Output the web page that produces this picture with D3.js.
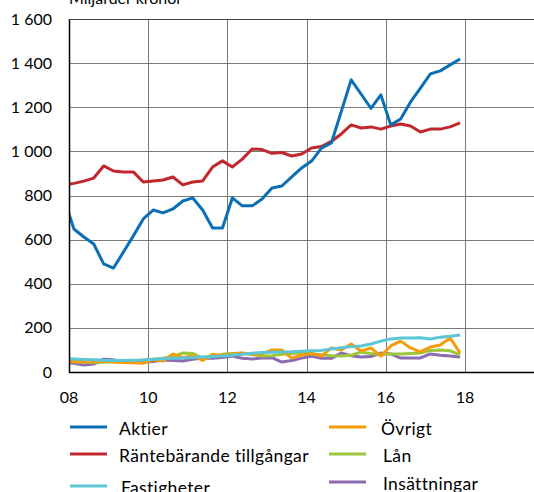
<!DOCTYPE html>
<html>

<head>
    <title>Hushållens finansiella tillgångar</title>
    <script src="https://d3js.org/d3.v7.min.js"></script>
    <style>
        body {
            margin: 0;
            padding: 0;
            background: #fff;
            overflow: hidden;
        }

        svg text {
            font-family: Lato, "Open Sans", sans-serif;
            fill: #000;
        }

        .grid line {
            stroke: #7a7a7a;
            stroke-width: 1;
            shape-rendering: crispEdges;
        }

        .series {
            fill: none;
            stroke-width: 3;
            stroke-linejoin: round;
        }
    </style>
</head>

<body>
    <div id="chart"></div>

    <script>
        // quarters, first one sits left of the plot and gets clipped
        const quarters = ["2007K4",
            "2008K1", "2008K2", "2008K3", "2008K4", "2009K1", "2009K2", "2009K3", "2009K4",
            "2010K1", "2010K2", "2010K3", "2010K4", "2011K1", "2011K2", "2011K3", "2011K4",
            "2012K1", "2012K2", "2012K3", "2012K4", "2013K1", "2013K2", "2013K3", "2013K4",
            "2014K1", "2014K2", "2014K3", "2014K4", "2015K1", "2015K2", "2015K3", "2015K4",
            "2016K1", "2016K2", "2016K3", "2016K4", "2017K1", "2017K2", "2017K3", "2017K4"];

        const aktier = [784,
            648, 612, 580, 490, 471, 544, 617, 694,
            734, 721, 739, 775, 789, 734, 653, 653,
            789, 753, 753, 784, 834, 843, 884, 925,
            956, 1015, 1038, 1180, 1324, 1260, 1195, 1256,
            1120, 1147, 1224, 1287, 1351, 1365, 1392, 1419];

        const rantebarande = [848,
            855, 865, 879, 934, 911, 907, 907, 861,
            866, 870, 884, 848, 861, 866, 929, 957,
            929, 965, 1011, 1008, 991, 995, 979, 988,
            1015, 1022, 1045, 1079, 1120, 1106, 1111, 1101,
            1115, 1124, 1115, 1088, 1101, 1101, 1111, 1129];

        const fastigheter = [60,
            59, 57, 55, 53, 52, 52, 53, 54,
            58, 60, 62, 64, 66, 68, 70, 72,
            76, 80, 85, 88, 90, 91, 92, 94,
            96, 98, 104, 110, 115, 118, 127, 140,
            150, 154, 154, 155, 150, 158, 162, 168];

        const ovrigt = [50,
            48, 46, 47, 50, 45, 43, 42, 40,
            55, 50, 82, 65, 75, 52, 80, 75,
            80, 85, 80, 82, 100, 100, 63, 77,
            85, 72, 109, 100, 127, 95, 109, 72,
            118, 140, 109, 91, 113, 122, 154, 86];

        const lan = [46,
            45, 44, 43, 44, 46, 48, 50, 54,
            58, 62, 70, 86, 84, 62, 70, 80,
            84, 86, 80, 72, 74, 80, 84, 86,
            82, 78, 74, 72, 76, 90, 84, 80,
            82, 82, 84, 86, 98, 100, 96, 78];

        const insattningar = [42,
            40, 32, 36, 58, 55, 50, 48, 45,
            48, 54, 52, 50, 58, 63, 62, 66,
            72, 62, 59, 63, 65, 45, 52, 63,
            72, 62, 62, 86, 74, 68, 70, 86,
            82, 63, 63, 64, 82, 76, 72, 68];

        const seriesNames = ["Aktier", "Räntebärande tillgångar", "Fastigheter", "Övrigt", "Lån", "Insättningar"];
        const seriesValues = [aktier, rantebarande, fastigheter, ovrigt, lan, insattningar];
        const seriesColors = ["#0a6fb5", "#c1272d", "#5bc6d6", "#f59c0b", "#9cc63b", "#8c6bb1"];

        const yTicks = [0, 200, 400, 600, 800, 1000, 1200, 1400, 1600];
        const xTicks = [2008, 2010, 2012, 2014, 2016, 2018, 2020];
        const xTickLabels = ["08", "10", "12", "14", "16", "18", ""];

        const width = 534,
            height = 492;
        const margin = {
            top: 19,
            left: 69,
            bottom: 120
        };
        const plotBottom = height - margin.bottom; // 372

        var xScale = d3.scaleLinear().domain([2008, 2020]).range([margin.left, margin.left + 12 * 39.6]);
        var yScale = d3.scaleLinear().domain([0, 1600]).range([plotBottom, margin.top]);

        var fmt = d3.formatLocale({ decimal: ",", thousands: "\u00a0", grouping: [3], currency: ["", " kr"] }).format(",d");

        // quarter label -> middle of the quarter on the year axis
        function quarterPos(q) {
            var year = +q.slice(0, 4);
            var k = +q.slice(5);
            return year + (k - 1) * 0.25 + 0.125;
        }

        var svg = d3.select("#chart").append("svg")
            .attr("width", width)
            .attr("height", height);

        svg.append("clipPath").attr("id", "plotClip")
            .append("rect")
            .attr("x", margin.left)
            .attr("y", 0)
            .attr("width", width - margin.left)
            .attr("height", plotBottom);

        // grid
        var grid = svg.append("g").attr("class", "grid");
        grid.selectAll(".hgrid")
            .data(yTicks.filter(d => d > 0))
            .enter().append("line")
            .attr("x1", margin.left)
            .attr("x2", width)
            .attr("y1", d => Math.round(yScale(d)) + 0.5)
            .attr("y2", d => Math.round(yScale(d)) + 0.5);
        grid.selectAll(".vgrid")
            .data(xTicks.filter(d => d > 2008))
            .enter().append("line")
            .attr("x1", d => Math.round(xScale(d)) + 0.5)
            .attr("x2", d => Math.round(xScale(d)) + 0.5)
            .attr("y1", margin.top)
            .attr("y2", plotBottom);

        // y labels
        svg.append("g").selectAll("text")
            .data(yTicks)
            .enter().append("text")
            .attr("x", 52)
            .attr("y", d => yScale(d) + 5.5)
            .attr("text-anchor", "end")
            .style("font-size", "16px")
            .text(d => fmt(d));

        // x labels
        svg.append("g").selectAll("text")
            .data(xTicks)
            .enter().append("text")
            .attr("x", d => xScale(d))
            .attr("y", 403)
            .attr("text-anchor", "middle")
            .style("font-size", "16px")
            .text((d, i) => xTickLabels[i]);

        // lines, drawn bottom series first
        var line = d3.line()
            .x((d, i) => xScale(quarterPos(quarters[i])))
            .y(d => yScale(d));

        var plot = svg.append("g").attr("clip-path", "url(#plotClip)");
        for (var s = seriesValues.length - 1; s >= 0; s--) {
            plot.append("path")
                .datum(seriesValues[s])
                .attr("class", "series")
                .attr("stroke", seriesColors[s])
                .attr("d", line);
        }

        // axes frame
        svg.append("line")
            .attr("x1", margin.left + 0.5).attr("x2", margin.left + 0.5)
            .attr("y1", margin.top).attr("y2", plotBottom + 1)
            .attr("stroke", "#000").attr("stroke-width", 1.5);
        svg.append("line")
            .attr("x1", margin.left).attr("x2", width)
            .attr("y1", plotBottom + 0.5).attr("y2", plotBottom + 0.5)
            .attr("stroke", "#000").attr("stroke-width", 1.5);
        svg.append("line")
            .attr("x1", margin.left).attr("x2", width)
            .attr("y1", margin.top + 0.5).attr("y2", margin.top + 0.5)
            .attr("stroke", "#444").attr("stroke-width", 1);

        // unit title, cut off at the top like the original
        svg.append("text")
            .attr("x", 69)
            .attr("y", 4)
            .style("font-size", "16px")
            .text("Miljarder kronor");

        // legend, two columns
        var legendPos = [
            { x: 70, y: 427, tx: 119 },
            { x: 70, y: 454, tx: 119 },
            { x: 70, y: 486, tx: 121 },
            { x: 329, y: 427, tx: 381 },
            { x: 329, y: 454, tx: 383 },
            { x: 329, y: 482, tx: 383 }
        ];
        var legend = svg.append("g");
        seriesNames.forEach((name, i) => {
            var p = legendPos[i];
            legend.append("line")
                .attr("x1", p.x).attr("x2", p.x + 37)
                .attr("y1", p.y).attr("y2", p.y)
                .attr("stroke", seriesColors[i])
                .attr("stroke-width", 3);
            legend.append("text")
                .attr("x", p.tx)
                .attr("y", p.y + 8)
                .style("font-size", "17.5px")
                .style("letter-spacing", "0.35px")
                .text(name);
        });
    </script>
</body>

</html>
